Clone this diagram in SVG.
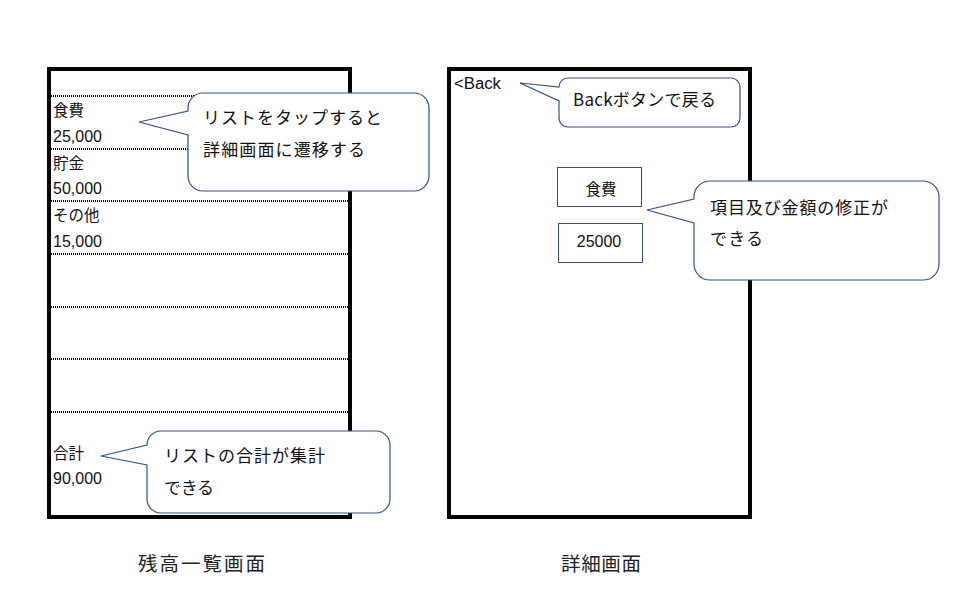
<svg xmlns="http://www.w3.org/2000/svg" width="961" height="606" viewBox="0 0 961 606">
<style>
.frame{fill:#fff;stroke:#000;stroke-width:4}
.sep{stroke:#000;stroke-width:2;stroke-dasharray:1 1;fill:none}
.t{font-family:"Liberation Sans","Noto Sans CJK JP",sans-serif;font-size:16px;fill:#111}
.j{font-family:"Noto Sans CJK JP","Liberation Sans",sans-serif;font-size:15.5px;fill:#111}
.c{font-family:"Noto Sans CJK JP","Liberation Sans",sans-serif;font-size:17px;fill:#111}
.cap{font-family:"Noto Sans CJK JP",sans-serif;font-size:19.5px;fill:#222}
.call{fill:#fff;stroke:#2F528F;stroke-width:1.2;stroke-linejoin:miter}
.box{fill:#fff;stroke:#2F528F;stroke-width:1}
</style>
<rect width="961" height="606" fill="#fff"/>
<g id="list-screen">
<rect class="frame" x="49" y="69" width="301" height="448"/>
<line class="sep" x1="51" y1="96" x2="348" y2="96"/>
<line class="sep" x1="51" y1="149" x2="348" y2="149"/>
<line class="sep" x1="51" y1="201" x2="348" y2="201"/>
<line class="sep" x1="51" y1="254" x2="348" y2="254"/>
<line class="sep" x1="51" y1="307" x2="348" y2="307"/>
<line class="sep" x1="51" y1="359" x2="348" y2="359"/>
<line class="sep" x1="51" y1="412" x2="348" y2="412"/>
<text class="j" x="53" y="116">食費</text>
<text class="t" x="53" y="142">25,000</text>
<text class="j" x="53" y="169">貯金</text>
<text class="t" x="53" y="194">50,000</text>
<text class="j" x="53" y="221">その他</text>
<text class="t" x="53" y="247">15,000</text>
<text class="j" x="53" y="459">合計</text>
<text class="t" x="53" y="484">90,000</text>
</g>
<g id="detail-screen">
<rect class="frame" x="449" y="69" width="301" height="448"/>
<text class="t" x="454" y="89" textLength="47" lengthAdjust="spacingAndGlyphs">&lt;Back</text>
</g>
<g id="field-name">
<rect class="box" x="557.5" y="167.5" width="84" height="39"/>
<text class="j" x="601" y="195" text-anchor="middle">食費</text>
</g>
<g id="field-amount">
<rect class="box" x="558.5" y="223.5" width="84" height="39"/>
<text class="t" x="599" y="247" text-anchor="middle">25000</text>
</g>
<g id="callout-tap">
<path class="call" d="M203 93H414A15 15 0 0 1 429 108V176A15 15 0 0 1 414 191H203A15 15 0 0 1 188 176V135L139 122L188 111V108A15 15 0 0 1 203 93Z"/>
<text class="c" x="203" y="124" textLength="179" lengthAdjust="spacing">リストをタップすると</text>
<text class="c" x="203" y="156" textLength="162" lengthAdjust="spacing">詳細画面に遷移する</text>
</g>
<g id="callout-total">
<path class="call" d="M161 431H376A14 14 0 0 1 390 445V499A14 14 0 0 1 376 513H161A14 14 0 0 1 147 499V465L101 456L147 445A14 14 0 0 1 161 431Z"/>
<text class="c" x="164" y="462" textLength="161" lengthAdjust="spacing">リストの合計が集計</text>
<text class="c" x="164" y="494" textLength="50" lengthAdjust="spacing">できる</text>
</g>
<g id="callout-back">
<path class="call" d="M568 78H731A9 9 0 0 1 740 87V118A9 9 0 0 1 731 127H568A9 9 0 0 1 559 118V101L520 83L559 87A9 9 0 0 1 568 78Z"/>
<text class="c" x="573" y="106" textLength="143" lengthAdjust="spacing">Backボタンで戻る</text>
</g>
<g id="callout-edit">
<path class="call" d="M710 181H923A16 16 0 0 1 939 197V264A16 16 0 0 1 923 280H710A16 16 0 0 1 694 264V223L647 210L694 199V197A16 16 0 0 1 710 181Z"/>
<text class="c" x="710" y="214" textLength="178" lengthAdjust="spacing">項目及び金額の修正が</text>
<text class="c" x="710" y="245" textLength="53" lengthAdjust="spacing">できる</text>
</g>
<g id="captions">
<text class="cap" x="138" y="571" textLength="127" lengthAdjust="spacing">残高一覧画面</text>
<text class="cap" x="561" y="571" textLength="80" lengthAdjust="spacing">詳細画面</text>
</g>
</svg>
